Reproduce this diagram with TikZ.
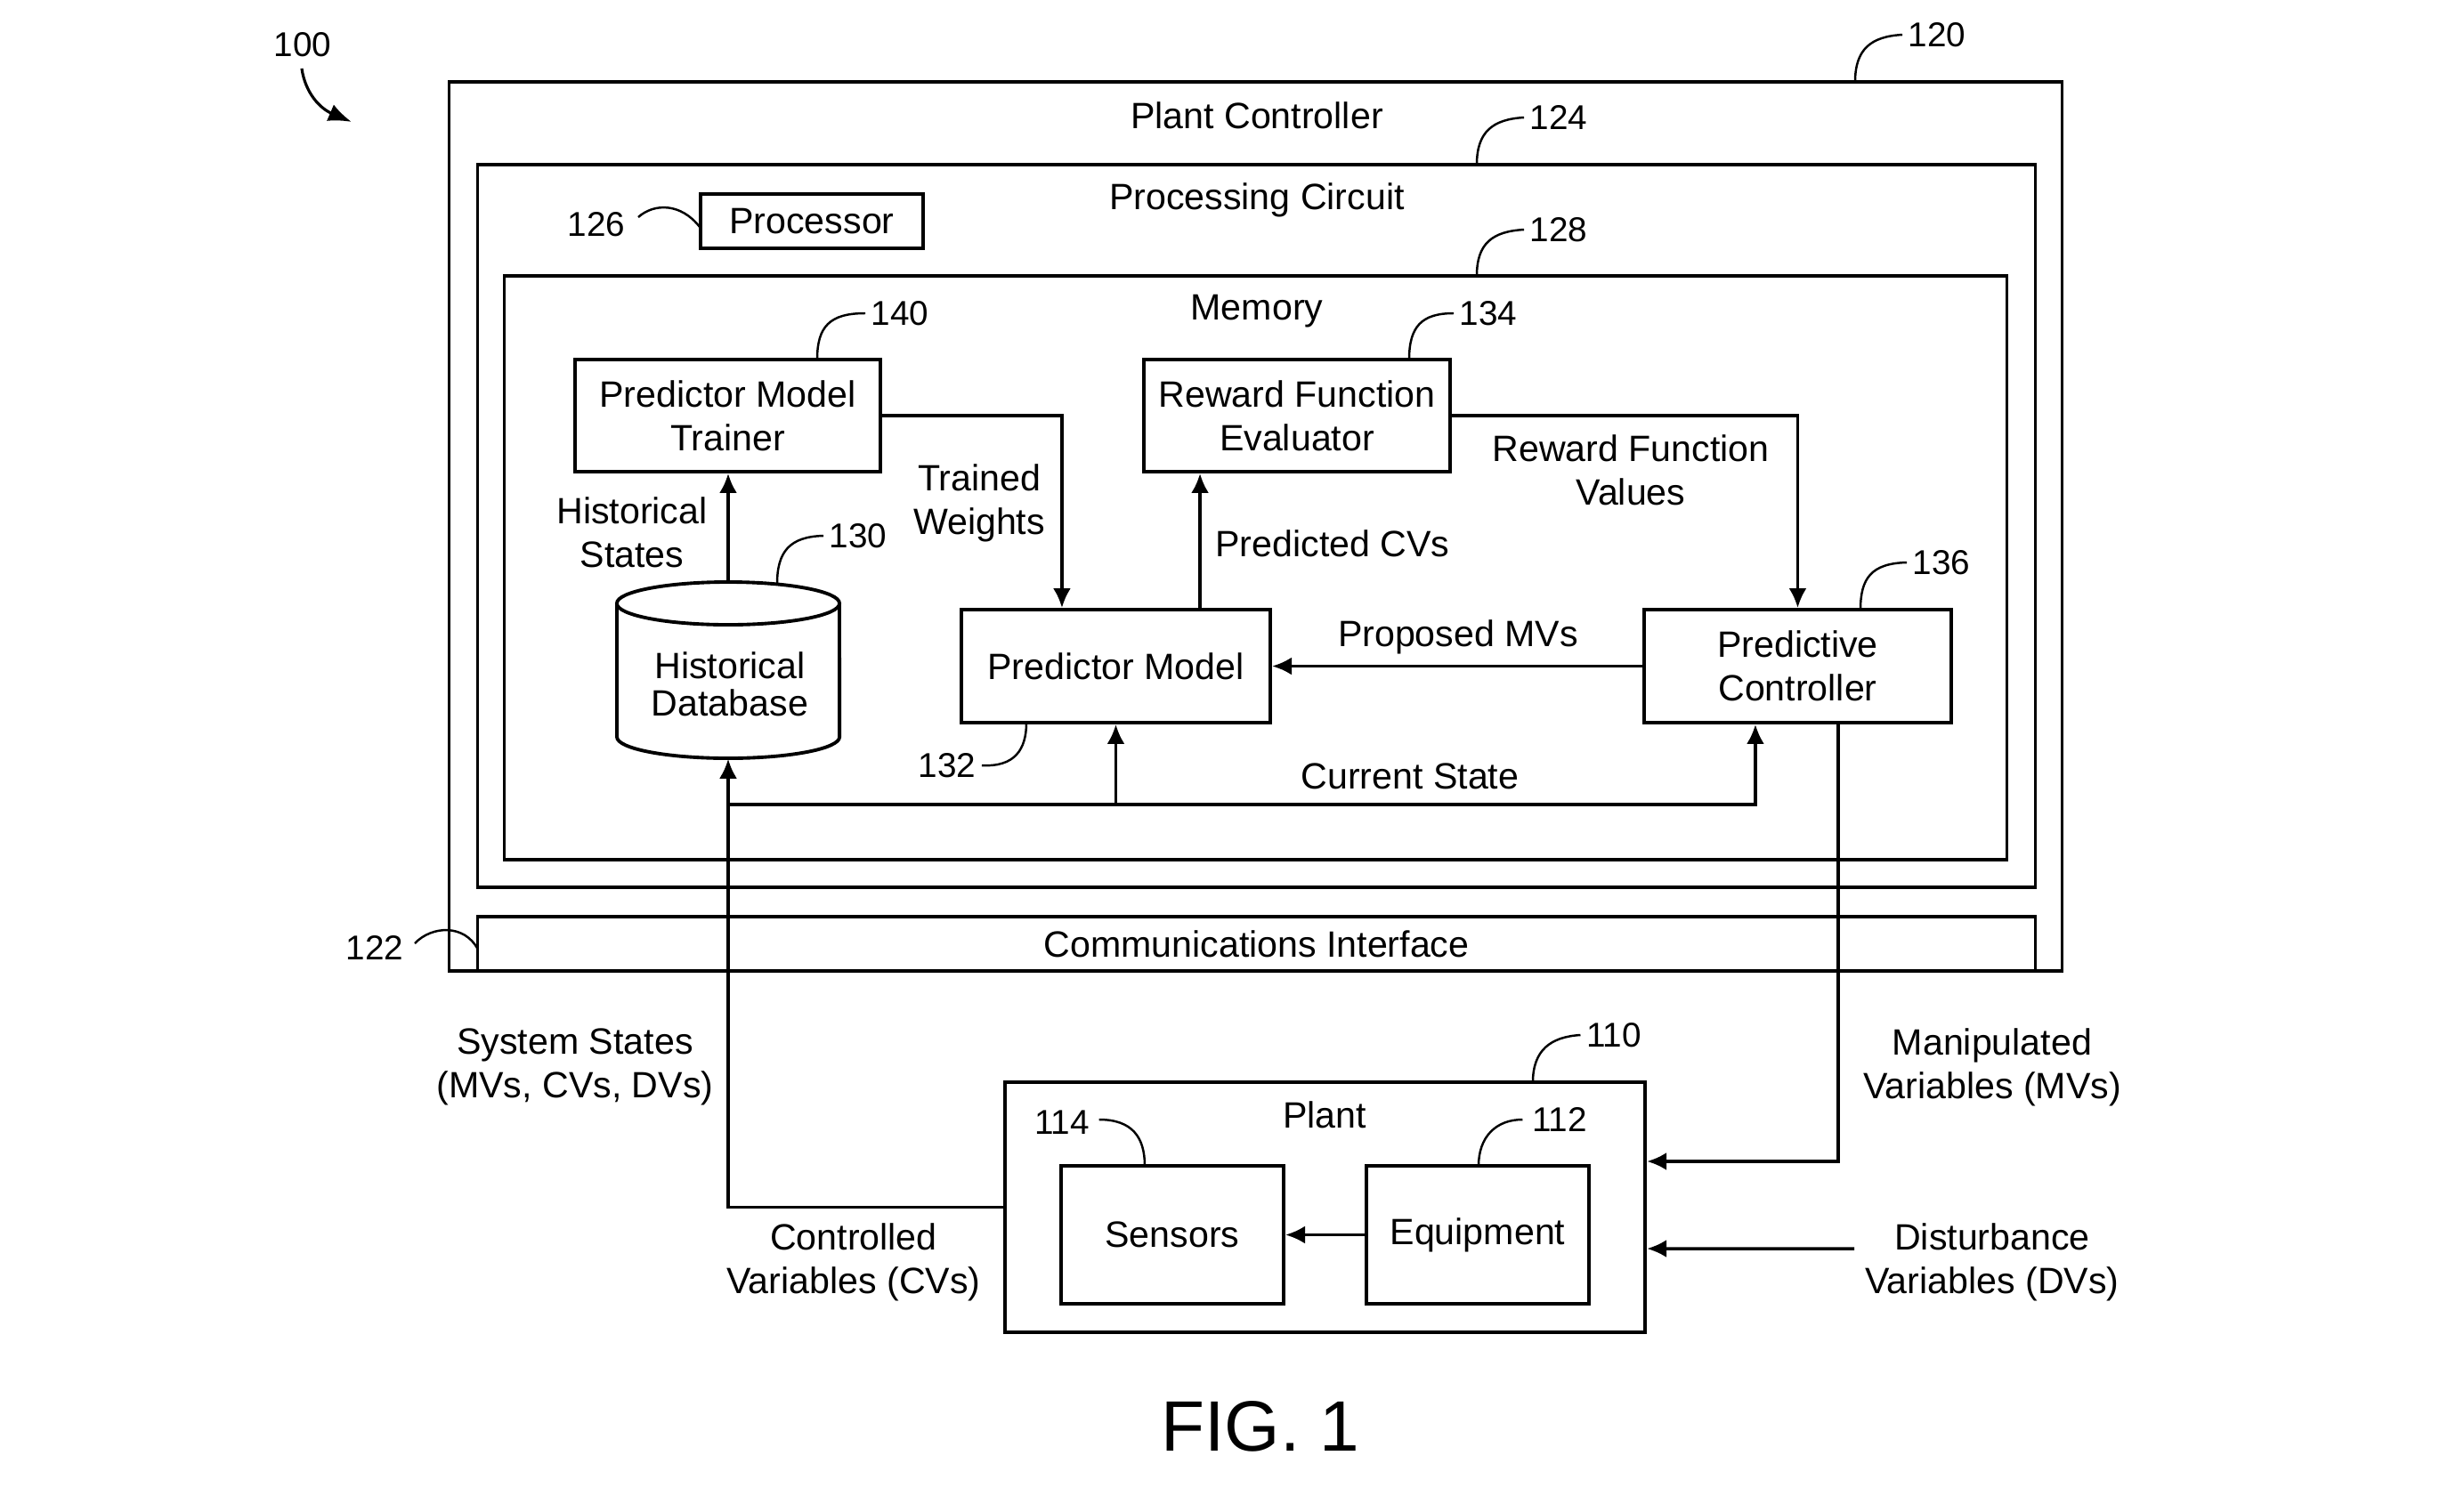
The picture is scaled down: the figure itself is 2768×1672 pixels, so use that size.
\documentclass[tikz,border=0pt]{standalone}
\usepackage{fontspec}
\setmainfont{Liberation Sans}
\usetikzlibrary{arrows.meta,calc}
\begin{document}
\begin{tikzpicture}[x=0.01cm,y=-0.01cm,
  txt/.style={inner sep=0pt,align=center,font=\fontsize{11.7pt}{13.9pt}\selectfont},
  num/.style={inner sep=0pt,font=\fontsize{11pt}{13pt}\selectfont},
  box/.style={draw,line width=1.1pt,inner sep=0pt,align=center,font=\fontsize{11.7pt}{13.9pt}\selectfont},
  arr/.style={line width=1pt,-{Latex[length=0.22cm,width=0.2cm]}},
  lead/.style={line width=0.7pt}]
\useasboundingbox (0,0) rectangle (2768,1672);

% containers
\node[box,minimum width=18.11cm,minimum height=9.99cm] (outer) at (1410.5,591.5) {};
\node[box,minimum width=17.49cm,minimum height=8.12cm] (proc) at (1411.5,591) {};
\node[box,minimum width=16.87cm,minimum height=6.56cm] (mem) at (1410.5,638) {};
\node[box,minimum width=17.49cm,minimum height=0.61cm] (comm) at (1411.5,1060.5) {Communications Interface};

\node[txt] (tpc) at (1412,130) {Plant Controller};
\node[txt] (tproc) at (1412,225) {Processing Circuit};
\node[txt] (tmem) at (1412,350) {Memory};

% blocks
\node[box,minimum width=2.50cm,minimum height=0.61cm] (cpu) at (912,248.5) {Processor};
\node[box,minimum width=3.43cm,minimum height=1.26cm] (trainer) at (817.5,467) {Predictor Model\\Trainer};
\node[box,minimum width=3.44cm,minimum height=1.26cm] (rfe) at (1457,467) {Reward Function\\Evaluator};
\node[box,minimum width=3.47cm,minimum height=1.27cm] (pm) at (1253.5,748.5) {Predictor Model};
\node[box,minimum width=3.45cm,minimum height=1.27cm] (pc) at (2019.5,748.5) {Predictive\\Controller};

% database cylinder
\node[inner sep=0pt,minimum width=2.5cm,minimum height=1.98cm] (db) at (818,753) {};
\draw[line width=1.1pt] (693,678) -- (693,828) arc (180:360:1.25cm and 0.24cm) -- (943,678);
\draw[line width=1.1pt] (818,678) ellipse [x radius=1.25cm, y radius=0.24cm];
\node[inner sep=0pt,align=center,font=\fontsize{11.7pt}{12pt}\selectfont] at (820,769) {Historical\\Database};

% plant
\node[box,minimum width=7.19cm,minimum height=2.81cm] (plant) at (1488.5,1356.5) {};
\node[txt] (tplant) at (1488,1253) {Plant};
\node[box,minimum width=2.50cm,minimum height=1.55cm] (sens) at (1317,1387.5) {Sensors};
\node[box,minimum width=2.50cm,minimum height=1.55cm] (equip) at (1660,1387.5) {Equipment};

% connector labels
\node[txt] at (710,598) {Historical\\States};
\node[txt] at (1100,565) {Trained\\Weights};
\node[txt] at (1497,611) {Predicted CVs};
\node[txt] at (1832,528) {Reward Function\\Values};
\node[txt] at (1638,716) {Proposed MVs};
\node[txt] at (1584,872) {Current State};
\node[txt] at (646,1199) {System States\\(MVs, CVs, DVs)};
\node[txt] at (959,1418) {Controlled\\Variables (CVs)};
\node[txt] at (2238,1199) {Manipulated\\Variables (MVs)};
\node[txt] at (2238,1418) {Disturbance\\Variables (DVs)};

% connectors
\coordinate (cs) at (818,904);
\coordinate (dvsrc) at (2083,1403);
\draw[arr] (db.north) -- (db.north |- trainer.south);
\draw[arr] (trainer.east) -| ([xshift=-0.605cm]pm.north);
\draw[arr] ([xshift=0.945cm]pm.north) -- ([xshift=0.945cm]pm.north |- rfe.south);
\draw[arr] (rfe.east) -| (pc.north);
\draw[arr] (pc.west) -- (pm.east);
\draw[arr] (plant.west) -| (db.south);
\draw[arr] (cs) -| ([xshift=-0.475cm]pc.south);
\draw[arr] (pm.south |- cs) -- (pm.south);
\draw[arr] ([xshift=0.455cm]pc.south) |- ([yshift=0.515cm]plant.east);
\draw[arr] (dvsrc) -- ([yshift=-0.465cm]plant.east);
\draw[arr] (equip.west) -- (sens.east);

% reference numerals
\node[num] (l100) at (340,50) {100};
\draw[lead,line width=0.9pt,-{Latex[length=0.26cm,width=0.2cm]}] (339,77) .. controls (343,105) and (360,122) .. (395,137);
\node[num] (l120) at (2176,39) {120};
\draw[lead] (2084,92) .. controls (2084,55) and (2102,41) .. ([xshift=-0.06cm]l120.west);
\node[num] (l124) at (1751,132) {124};
\draw[lead] (1659,185) .. controls (1659,148) and (1677,134) .. ([xshift=-0.06cm]l124.west);
\node[num] (l128) at (1751,258) {128};
\draw[lead] (1659,310) .. controls (1659,273) and (1677,260) .. ([xshift=-0.06cm]l128.west);
\node[num] (l126) at (670,252) {126};
\draw[lead] ([xshift=0.14cm,yshift=0.08cm]l126.east) .. controls (735,228) and (765,228) .. (786,255);
\node[num] (l140) at (1011,352) {140};
\draw[lead] (918,404) .. controls (918,367) and (932,352) .. ([xshift=-0.06cm]l140.west);
\node[num] (l134) at (1672,352) {134};
\draw[lead] (1583,404) .. controls (1583,367) and (1597,352) .. ([xshift=-0.06cm]l134.west);
\node[num] (l130) at (964,602) {130};
\draw[lead] (873,656) .. controls (873,620) and (887,603) .. ([xshift=-0.06cm]l130.west);
\node[num] (l136) at (2181,632) {136};
\draw[lead] (2090,685) .. controls (2090,650) and (2102,633) .. ([xshift=-0.06cm]l136.west);
\node[num] (l132) at (1064,860) {132};
\draw[lead] (1153,812) .. controls (1153,842) and (1140,862) .. ([xshift=0.06cm]l132.east);
\node[num] (l122) at (421,1065) {122};
\draw[lead] ([xshift=0.12cm,yshift=0.05cm]l122.east) .. controls (485,1040) and (522,1038) .. (537,1067);
\node[num] (l110) at (1813,1163) {110};
\draw[lead] (1722,1216) .. controls (1722,1180) and (1742,1165) .. ([xshift=-0.06cm]l110.west);
\node[num] (l114) at (1193,1261) {114};
\draw[lead] ([xshift=0.1cm,yshift=0.03cm]l114.east) .. controls (1272,1258) and (1286,1278) .. (1286,1310);
\node[num] (l112) at (1752,1258) {112};
\draw[lead] ([xshift=-0.1cm]l112.west) .. controls (1680,1258) and (1661,1278) .. (1661,1310);

\node[inner sep=0pt,font=\fontsize{22.8pt}{26pt}\selectfont] (fig) at (1416,1603) {FIG. 1};
\end{tikzpicture}
\end{document}
